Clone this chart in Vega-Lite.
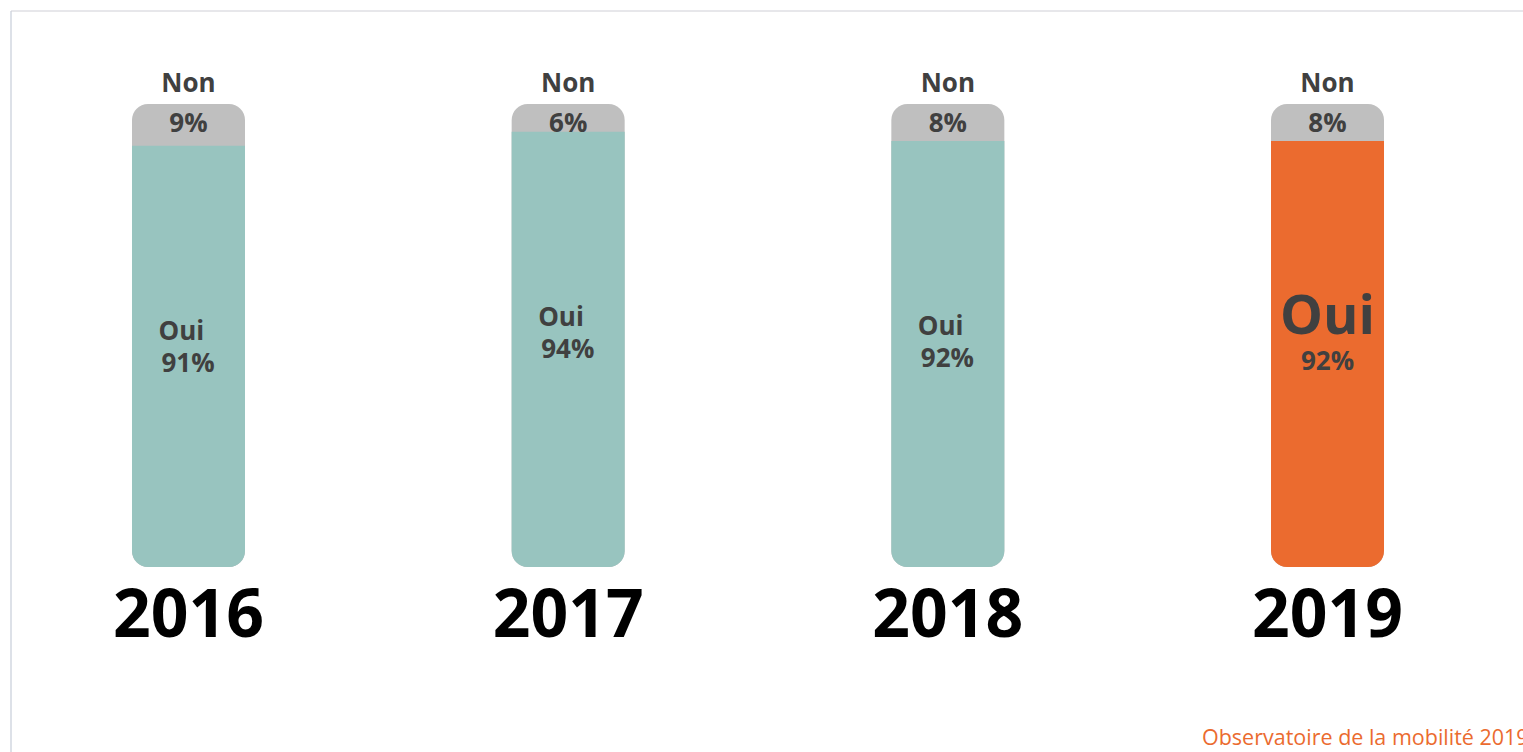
{
  "$schema": "https://vega.github.io/schema/vega-lite/v6.json",
  "autosize": "none",
  "width": 1512,
  "height": 741,
  "padding": {"left": 11, "top": 11, "right": 0, "bottom": 0},
  "background": "#ffffff",
  "config": {"view": {"stroke": null}, "text": {"font": "Open Sans"}},
  "datasets": {
    "bars": [
      {"year": 2016, "oui": 0.91, "non": 0.09},
      {"year": 2017, "oui": 0.94, "non": 0.06},
      {"year": 2018, "oui": 0.92, "non": 0.08},
      {"year": 2019, "oui": 0.92, "non": 0.08}
    ],
    "frame": [{"edge": "frame"}],
    "note": [{"note": "Observatoire de la mobilité 2019"}]
  },
  "layer": [
    {
      "data": {"name": "bars"},
      "mark": {"type": "bar", "size": 113, "color": "#BFBFBF", "cornerRadius": 16},
      "encoding": {
        "x": {"field": "year", "type": "quantitative", "scale": {"domain": [2015.5325, 2019.5149], "nice": false, "zero": false, "padding": 0}, "axis": null},
        "y": {"datum": 1, "type": "quantitative", "scale": {"domain": [-0.3996, 1.2009], "nice": false, "zero": false, "padding": 0}, "axis": null},
        "y2": {"datum": 0}
      }
    },
    {
      "data": {"name": "bars"},
      "mark": {"type": "bar", "size": 113, "cornerRadiusBottomLeft": 16, "cornerRadiusBottomRight": 16},
      "encoding": {
        "x": {"field": "year", "type": "quantitative"},
        "y": {"field": "oui", "type": "quantitative"},
        "y2": {"datum": 0},
        "color": {"condition": {"test": "datum.year == 2019", "value": "#EB6B2F"}, "value": "#98C4BF"}
      }
    },
    {
      "data": {"name": "bars"},
      "mark": {"type": "text", "fontSize": 26, "fontWeight": "bold", "color": "#404040", "baseline": "alphabetic", "dy": -12},
      "encoding": {"x": {"field": "year", "type": "quantitative"}, "y": {"datum": 1, "type": "quantitative"}, "text": {"value": "Non"}}
    },
    {
      "data": {"name": "bars"},
      "mark": {"type": "text", "fontSize": 26, "fontWeight": "bold", "color": "#404040", "baseline": "alphabetic", "dy": 28},
      "encoding": {"x": {"field": "year", "type": "quantitative"}, "y": {"datum": 1, "type": "quantitative"}, "text": {"field": "non", "type": "quantitative", "format": ".0%"}}
    },
    {
      "data": {"name": "bars"},
      "transform": [{"filter": "datum.year != 2019"}],
      "mark": {"type": "text", "fontSize": 26, "fontWeight": "bold", "color": "#404040", "baseline": "alphabetic", "align": "left", "dx": -30, "dy": 194},
      "encoding": {"x": {"field": "year", "type": "quantitative"}, "y": {"field": "oui", "type": "quantitative"}, "text": {"value": "Oui"}}
    },
    {
      "data": {"name": "bars"},
      "transform": [{"filter": "datum.year != 2019"}],
      "mark": {"type": "text", "fontSize": 26, "fontWeight": "bold", "color": "#404040", "baseline": "alphabetic", "align": "left", "dx": -27, "dy": 226},
      "encoding": {"x": {"field": "year", "type": "quantitative"}, "y": {"field": "oui", "type": "quantitative"}, "text": {"field": "oui", "type": "quantitative", "format": ".0%"}}
    },
    {
      "data": {"name": "bars"},
      "transform": [{"filter": "datum.year == 2019"}],
      "mark": {"type": "text", "fontSize": 54, "fontWeight": "bold", "color": "#404040", "baseline": "alphabetic", "align": "center", "dy": 193},
      "encoding": {"x": {"field": "year", "type": "quantitative"}, "y": {"field": "oui", "type": "quantitative"}, "text": {"value": "Oui"}}
    },
    {
      "data": {"name": "bars"},
      "transform": [{"filter": "datum.year == 2019"}],
      "mark": {"type": "text", "fontSize": 26, "fontWeight": "bold", "color": "#404040", "baseline": "alphabetic", "align": "center", "dy": 229},
      "encoding": {"x": {"field": "year", "type": "quantitative"}, "y": {"field": "oui", "type": "quantitative"}, "text": {"field": "oui", "type": "quantitative", "format": ".0%"}}
    },
    {
      "data": {"name": "bars"},
      "mark": {"type": "text", "fontSize": 66, "fontWeight": "bold", "color": "#000000", "baseline": "alphabetic", "dy": 70},
      "encoding": {"x": {"field": "year", "type": "quantitative"}, "y": {"datum": 0, "type": "quantitative"}, "text": {"field": "year", "type": "nominal"}}
    },
    {
      "data": {"name": "frame"},
      "mark": {"type": "rule", "color": "#DDE1E8", "strokeWidth": 2},
      "encoding": {"x": {"datum": 2015.5325, "type": "quantitative"}}
    },
    {
      "data": {"name": "frame"},
      "mark": {"type": "rule", "color": "#CFCFD6", "strokeWidth": 1},
      "encoding": {"y": {"datum": 1.2009, "type": "quantitative"}}
    },
    {
      "data": {"name": "note"},
      "mark": {"type": "text", "fontSize": 21.5, "color": "#EB6B2F", "align": "left", "baseline": "alphabetic", "dy": -7},
      "encoding": {
        "x": {"datum": 2018.6694, "type": "quantitative"},
        "y": {"datum": -0.3996, "type": "quantitative"},
        "text": {"field": "note", "type": "nominal"}
      }
    }
  ]
}
